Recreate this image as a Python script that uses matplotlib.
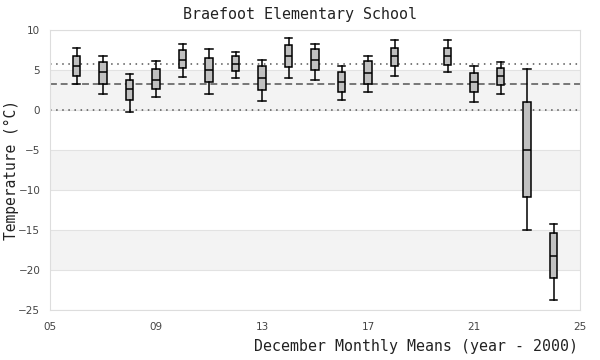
import matplotlib
matplotlib.use('Agg')
import matplotlib.pyplot as plt

# December monthly means, box stats (year - 2000)
years = [6, 7, 8, 9, 10, 11, 12, 13, 14, 15, 16, 17, 18, 20, 21, 22, 23, 24]
whislo = [3.2, 1.95, -0.3, 1.6, 4.1, 1.95, 3.95, 1.1, 3.95, 3.7, 1.2, 2.2, 4.2, 4.7, 0.95, 1.95, -15.0, -23.8]
q1 = [4.3, 3.3, 1.2, 2.6, 5.2, 3.45, 4.85, 2.45, 5.35, 4.95, 2.2, 3.2, 5.45, 5.6, 2.2, 3.1, -10.9, -21.0]
med = [5.45, 4.7, 2.6, 3.8, 6.3, 4.95, 5.7, 3.95, 6.7, 6.3, 3.45, 4.6, 6.7, 6.7, 3.45, 4.2, -5.05, -18.3]
q3 = [6.7, 5.95, 3.8, 5.1, 7.45, 6.45, 6.7, 5.45, 8.1, 7.6, 4.7, 6.1, 7.8, 7.8, 4.6, 5.2, 0.95, -15.4]
whishi = [7.7, 6.7, 4.45, 6.1, 8.2, 7.6, 7.3, 6.3, 8.95, 8.2, 5.45, 6.8, 8.7, 8.7, 5.45, 5.95, 5.1, -14.2]

# reference lines
upper_ref = 5.75
mean_ref = 3.25
lower_ref = 0.0

xticks = [5, 9, 13, 17, 21, 25]
yticks = [-25, -20, -15, -10, -5, 0, 5, 10]
bands = [(0, 5), (-10, -5), (-20, -15)]

mono = 'DejaVu Sans Mono'

fig = plt.figure(figsize=(6, 3.6), dpi=100)
ax = fig.add_axes([50 / 600, 1 - 310 / 360, 530 / 600, 280 / 360])

for lo, hi in bands:
    ax.axhspan(lo, hi, color='#f3f3f3', zorder=0, lw=0)
for y in yticks:
    ax.axhline(y, color='#e2e2e2', lw=0.8, zorder=0.5)

ax.axhline(upper_ref, color='#555555', lw=1.1, linestyle=(0, (1, 3)), zorder=1)
ax.axhline(mean_ref, color='#555555', lw=1.1, linestyle=(0, (4.5, 2.5)), zorder=1)
ax.axhline(lower_ref, color='#555555', lw=1.1, linestyle=(0, (1, 3)), zorder=1)

stats = []
for i in range(len(years)):
    stats.append({'whislo': whislo[i], 'q1': q1[i], 'med': med[i],
                  'q3': q3[i], 'whishi': whishi[i], 'fliers': []})

ax.bxp(stats, positions=years, widths=0.3, patch_artist=True, manage_ticks=False,
       boxprops=dict(facecolor='#c0c0c0', edgecolor='black', lw=1.1),
       medianprops=dict(color='black', lw=1.1),
       whiskerprops=dict(color='black', lw=1.1),
       capprops=dict(color='black', lw=1.1), capwidths=0.3, zorder=3)

ax.set_xlim(5, 25)
ax.set_ylim(-25, 10)
ax.set_xticks(xticks)
ax.set_xticklabels(['%02d' % t for t in xticks])
ax.set_yticks(yticks)
ax.tick_params(length=0, labelsize=7.5, colors='#444444', pad=9)
ax.tick_params(axis='y', pad=7)
for s in ax.spines.values():
    s.set_color('#dddddd')

fig.text(0.5, 1 - 14 / 360, 'Braefoot Elementary School', ha='center', va='center',
         family=mono, fontsize=10.8, color='#222222')
fig.text(578 / 600, 1 - 347 / 360, 'December Monthly Means (year - 2000)', ha='right',
         va='center', family=mono, fontsize=10.7, color='#222222')
fig.text(11 / 600, 1 - 170 / 360, 'Temperature (°C)', ha='center', va='center',
         rotation=90, family=mono, fontsize=10.5, color='#222222')

fig.savefig('out.png', dpi=100)
